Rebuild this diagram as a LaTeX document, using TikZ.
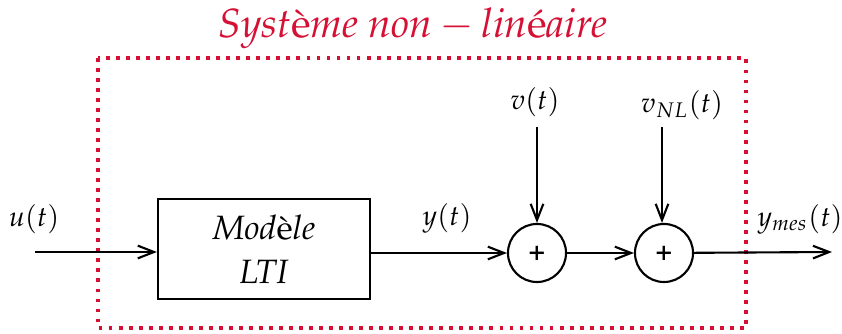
\documentclass[tikz,border=0pt]{standalone}
\usepackage[T1]{fontenc}
\usepackage{mathpazo}
\usepackage{amsmath}
\usetikzlibrary{arrows.meta}
\definecolor{rougesys}{RGB}{213,16,52}

\begin{document}
\begin{tikzpicture}[x=0.01cm, y=-0.01cm, % 1 unite = 1 pixel de la figure
    >={Straight Barb[length=4.6pt,width=3.6pt]},
    bloc/.style={draw, semithick, minimum width=2.12cm, minimum height=1cm, align=center, inner sep=0pt, font=\fontsize{9.6}{11.5}\selectfont},
    somme/.style={draw, semithick, circle, minimum size=0.58cm, inner sep=0pt, font=\bfseries\footnotesize},
    signal/.style={font=\footnotesize},
    fleche/.style={semithick, ->}]
    \useasboundingbox (0,0) rectangle (842,334);

    % Cadre du systeme non-lineaire
    \draw[rougesys, line width=1.2pt, dash pattern=on 1.1pt off 1.75pt] (98,58) rectangle (746,328);
    \node[rougesys, font=\fontsize{11.6}{14}\selectfont] (titre) at (413,28) {$\mathit{Syst}\text{è}\mathit{me}\ \mathit{non}-\mathit{lin}\text{é}\mathit{aire}$};

    % Blocs
    \node[bloc] (lti) at (264,249) {$\mathit{Mod}\text{è}\mathit{le}$\\[1pt]$\mathit{LTI}$};
    \node[somme] (s1) at (537,253) {+};
    \node[somme] (s2) at (664,253) {+};

    % Entree, sortie et perturbations
    \coordinate (entree) at (35,252);
    \coordinate (sortie) at (832,252);
    \coordinate (pv) at (537,127);
    \coordinate (pvnl) at (662,127);

    % Etiquettes
    \node[signal] (u) at (34,219) {$u(t)$};
    \node[signal] (y) at (447,218) {$y(t)$};
    \node[signal] (v) at (535,102) {$v(t)$};
    \node[signal] (vnl) at (682,105) {$v_{NL}(t)$};
    \node[signal] (ymes) at (800,219) {$y_{mes}(t)$};

    % Connexions
    \draw[fleche] (entree) -- (entree -| lti.west);
    \draw[fleche] (lti.east |- s1) -- (s1);
    \draw[fleche] (s1) -- (s2);
    \draw[fleche] (s2) -- (sortie);
    \draw[fleche] (pv) -- (s1);
    \draw[fleche] (pvnl) -- (pvnl |- s2.north);

\end{tikzpicture}
\end{document}
